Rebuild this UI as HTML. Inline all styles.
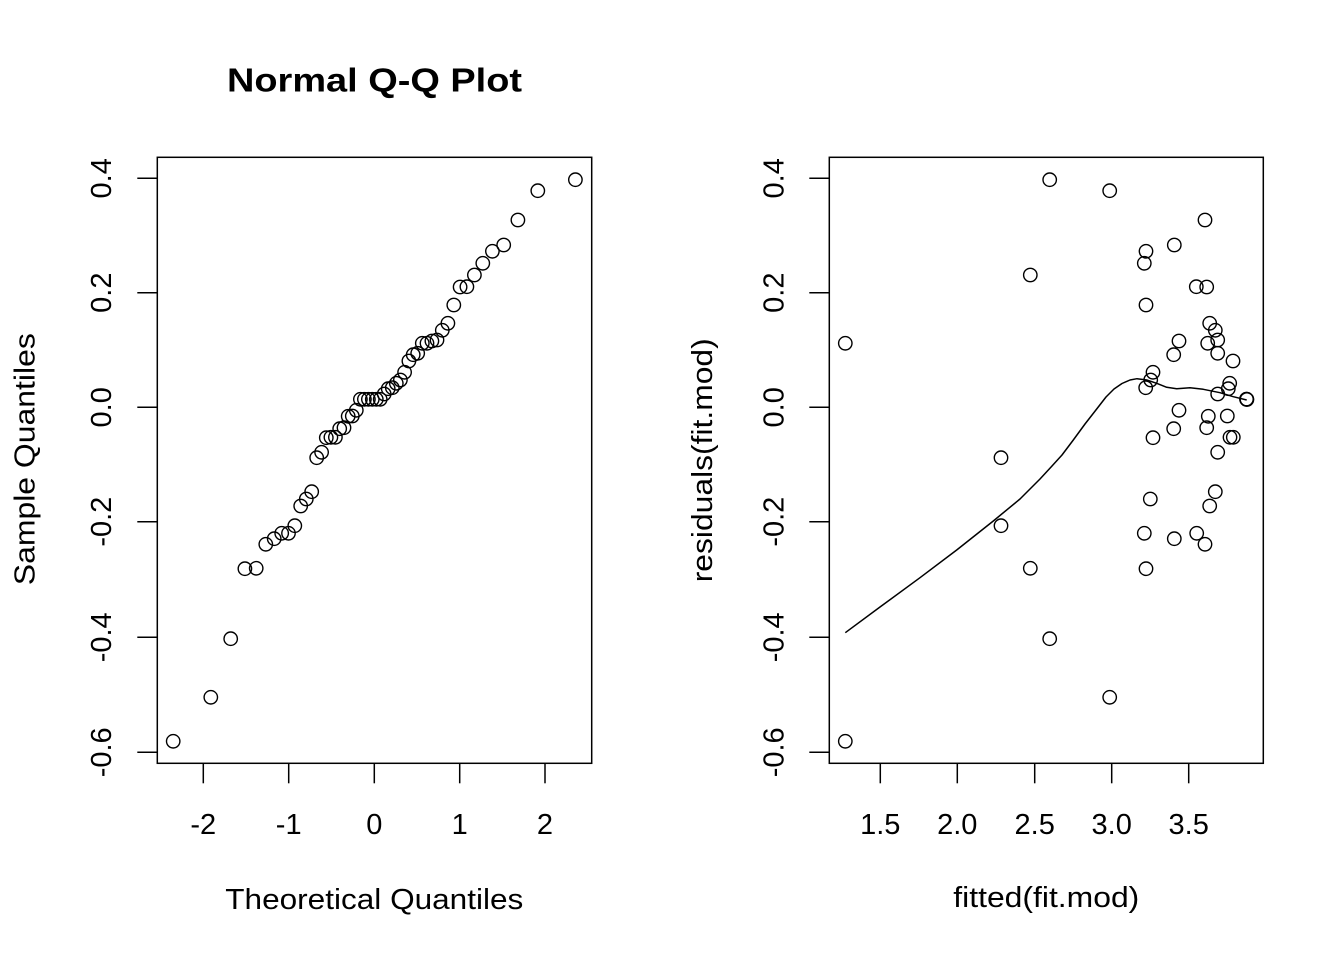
<!DOCTYPE html>
<html>
<head>
<meta charset="utf-8">
<style>
html,body{margin:0;padding:0;background:#fff;}
svg{display:block;}
text{font-family:"Liberation Sans",Arial,sans-serif;fill:#000;}
</style>
</head>
<body>
<svg width="1344" height="960" viewBox="0 0 1344 960" xmlns="http://www.w3.org/2000/svg">
<rect x="0" y="0" width="1344" height="960" fill="#fff"/>
<text x="374.5" y="91.7" font-size="33" font-weight="bold" text-anchor="middle" textLength="295" lengthAdjust="spacingAndGlyphs">Normal Q-Q Plot</text>
<rect x="157.3" y="157.3" width="434.4" height="606" fill="none" stroke="#000" stroke-width="1.5"/>
<g stroke="#000" stroke-width="1.5">
<line x1="203.3" y1="763.3" x2="203.3" y2="783.3"/>
<line x1="288.7" y1="763.3" x2="288.7" y2="783.3"/>
<line x1="374.3" y1="763.3" x2="374.3" y2="783.3"/>
<line x1="459.7" y1="763.3" x2="459.7" y2="783.3"/>
<line x1="545" y1="763.3" x2="545" y2="783.3"/>
<line x1="137.3" y1="178.3" x2="157.3" y2="178.3"/>
<line x1="137.3" y1="292.7" x2="157.3" y2="292.7"/>
<line x1="137.3" y1="407.3" x2="157.3" y2="407.3"/>
<line x1="137.3" y1="521.7" x2="157.3" y2="521.7"/>
<line x1="137.3" y1="637.3" x2="157.3" y2="637.3"/>
<line x1="137.3" y1="752.3" x2="157.3" y2="752.3"/>
</g>
<g font-size="29" text-anchor="middle">
<text x="203.3" y="834">-2</text>
<text x="288.7" y="834">-1</text>
<text x="374.3" y="834">0</text>
<text x="459.7" y="834">1</text>
<text x="545" y="834">2</text>
<text transform="translate(111,178.3) rotate(-90)">0.4</text>
<text transform="translate(111,292.7) rotate(-90)">0.2</text>
<text transform="translate(111,407.3) rotate(-90)">0.0</text>
<text transform="translate(111,521.7) rotate(-90)">-0.2</text>
<text transform="translate(111,637.3) rotate(-90)">-0.4</text>
<text transform="translate(111,752.3) rotate(-90)">-0.6</text>
</g>
<text x="374.3" y="909" font-size="29" text-anchor="middle" textLength="298" lengthAdjust="spacingAndGlyphs">Theoretical Quantiles</text>
<text transform="translate(34.3,459.2) rotate(-90)" font-size="29" text-anchor="middle" textLength="252" lengthAdjust="spacingAndGlyphs">Sample Quantiles</text>
<g fill="none" stroke="#000" stroke-width="1.4">
<circle cx="575.4" cy="179.7" r="6.7"/>
<circle cx="537.8" cy="190.7" r="6.7"/>
<circle cx="517.9" cy="220" r="6.7"/>
<circle cx="503.7" cy="245" r="6.7"/>
<circle cx="492.4" cy="251.3" r="6.7"/>
<circle cx="482.8" cy="263.3" r="6.7"/>
<circle cx="474.4" cy="275" r="6.7"/>
<circle cx="466.9" cy="286.7" r="6.7"/>
<circle cx="460.1" cy="287" r="6.7"/>
<circle cx="453.8" cy="305" r="6.7"/>
<circle cx="447.9" cy="323.3" r="6.7"/>
<circle cx="442.3" cy="330.3" r="6.7"/>
<circle cx="437.0" cy="340" r="6.7"/>
<circle cx="431.9" cy="341" r="6.7"/>
<circle cx="427.0" cy="343.3" r="6.7"/>
<circle cx="422.3" cy="343.3" r="6.7"/>
<circle cx="417.7" cy="353.3" r="6.7"/>
<circle cx="413.2" cy="354.7" r="6.7"/>
<circle cx="408.9" cy="361" r="6.7"/>
<circle cx="404.6" cy="372.3" r="6.7"/>
<circle cx="400.4" cy="380" r="6.7"/>
<circle cx="396.3" cy="383.3" r="6.7"/>
<circle cx="392.3" cy="387.7" r="6.7"/>
<circle cx="388.2" cy="388.7" r="6.7"/>
<circle cx="384.2" cy="394" r="6.7"/>
<circle cx="380.2" cy="399.3" r="6.7"/>
<circle cx="376.3" cy="399.3" r="6.7"/>
<circle cx="372.3" cy="399.3" r="6.7"/>
<circle cx="368.4" cy="399.3" r="6.7"/>
<circle cx="364.4" cy="399.3" r="6.7"/>
<circle cx="360.4" cy="399.3" r="6.7"/>
<circle cx="356.3" cy="410.3" r="6.7"/>
<circle cx="352.3" cy="416" r="6.7"/>
<circle cx="348.2" cy="416.3" r="6.7"/>
<circle cx="344.0" cy="427.7" r="6.7"/>
<circle cx="339.7" cy="428.7" r="6.7"/>
<circle cx="335.4" cy="437.3" r="6.7"/>
<circle cx="330.9" cy="437.3" r="6.7"/>
<circle cx="326.3" cy="437.7" r="6.7"/>
<circle cx="321.6" cy="452.3" r="6.7"/>
<circle cx="316.7" cy="457.7" r="6.7"/>
<circle cx="311.7" cy="491.7" r="6.7"/>
<circle cx="306.3" cy="499" r="6.7"/>
<circle cx="300.7" cy="506" r="6.7"/>
<circle cx="294.8" cy="525.7" r="6.7"/>
<circle cx="288.5" cy="533.3" r="6.7"/>
<circle cx="281.7" cy="533.3" r="6.7"/>
<circle cx="274.2" cy="538.7" r="6.7"/>
<circle cx="265.8" cy="544.3" r="6.7"/>
<circle cx="256.2" cy="568.3" r="6.7"/>
<circle cx="244.9" cy="568.7" r="6.7"/>
<circle cx="230.7" cy="638.7" r="6.7"/>
<circle cx="210.8" cy="697.3" r="6.7"/>
<circle cx="173.2" cy="741.3" r="6.7"/>
</g>
<rect x="829.3" y="157.3" width="434" height="606" fill="none" stroke="#000" stroke-width="1.5"/>
<g stroke="#000" stroke-width="1.5">
<line x1="880.3" y1="763.3" x2="880.3" y2="783.3"/>
<line x1="957.3" y1="763.3" x2="957.3" y2="783.3"/>
<line x1="1034.7" y1="763.3" x2="1034.7" y2="783.3"/>
<line x1="1111.7" y1="763.3" x2="1111.7" y2="783.3"/>
<line x1="1188.7" y1="763.3" x2="1188.7" y2="783.3"/>
<line x1="809.3" y1="178.3" x2="829.3" y2="178.3"/>
<line x1="809.3" y1="292.7" x2="829.3" y2="292.7"/>
<line x1="809.3" y1="407.3" x2="829.3" y2="407.3"/>
<line x1="809.3" y1="521.7" x2="829.3" y2="521.7"/>
<line x1="809.3" y1="637.3" x2="829.3" y2="637.3"/>
<line x1="809.3" y1="752.3" x2="829.3" y2="752.3"/>
</g>
<g font-size="29" text-anchor="middle">
<text x="880.3" y="834">1.5</text>
<text x="957.3" y="834">2.0</text>
<text x="1034.7" y="834">2.5</text>
<text x="1111.7" y="834">3.0</text>
<text x="1188.7" y="834">3.5</text>
<text transform="translate(783.3,178.3) rotate(-90)">0.4</text>
<text transform="translate(783.3,292.7) rotate(-90)">0.2</text>
<text transform="translate(783.3,407.3) rotate(-90)">0.0</text>
<text transform="translate(783.3,521.7) rotate(-90)">-0.2</text>
<text transform="translate(783.3,637.3) rotate(-90)">-0.4</text>
<text transform="translate(783.3,752.3) rotate(-90)">-0.6</text>
</g>
<text x="1046.3" y="907" font-size="29" text-anchor="middle" textLength="186" lengthAdjust="spacingAndGlyphs">fitted(fit.mod)</text>
<text transform="translate(712,460.3) rotate(-90)" font-size="29" text-anchor="middle" textLength="244" lengthAdjust="spacingAndGlyphs">residuals(fit.mod)</text>
<g fill="none" stroke="#000" stroke-width="1.4">
<circle cx="845.3" cy="343.3" r="6.7"/>
<circle cx="1049.7" cy="179.7" r="6.7"/>
<circle cx="1109.7" cy="190.7" r="6.7"/>
<circle cx="1205" cy="220" r="6.7"/>
<circle cx="1174.3" cy="245" r="6.7"/>
<circle cx="1146" cy="251.3" r="6.7"/>
<circle cx="1144.3" cy="263.3" r="6.7"/>
<circle cx="1030.3" cy="275" r="6.7"/>
<circle cx="1196.3" cy="286.7" r="6.7"/>
<circle cx="1206.7" cy="287" r="6.7"/>
<circle cx="1146" cy="305" r="6.7"/>
<circle cx="1209.7" cy="323.3" r="6.7"/>
<circle cx="1215.3" cy="330.3" r="6.7"/>
<circle cx="1179" cy="341" r="6.7"/>
<circle cx="1207.7" cy="343.3" r="6.7"/>
<circle cx="1217.7" cy="340" r="6.7"/>
<circle cx="1173.7" cy="354.7" r="6.7"/>
<circle cx="1217.7" cy="353.3" r="6.7"/>
<circle cx="1233" cy="361" r="6.7"/>
<circle cx="1153" cy="372.3" r="6.7"/>
<circle cx="1150.7" cy="380" r="6.7"/>
<circle cx="1145.7" cy="387.7" r="6.7"/>
<circle cx="1229.7" cy="383.3" r="6.7"/>
<circle cx="1228.3" cy="388.7" r="6.7"/>
<circle cx="1217.7" cy="394" r="6.7"/>
<circle cx="1246.7" cy="399.3" r="6.7"/>
<circle cx="1246.7" cy="399.3" r="6.7"/>
<circle cx="1246.9" cy="399.5" r="6.7"/>
<circle cx="1246.5" cy="399.1" r="6.7"/>
<circle cx="1179" cy="410.3" r="6.7"/>
<circle cx="1208.3" cy="416.3" r="6.7"/>
<circle cx="1227.3" cy="416" r="6.7"/>
<circle cx="1173.7" cy="428.7" r="6.7"/>
<circle cx="1206.7" cy="427.7" r="6.7"/>
<circle cx="1153" cy="437.7" r="6.7"/>
<circle cx="1230" cy="437.3" r="6.7"/>
<circle cx="1233.3" cy="437.3" r="6.7"/>
<circle cx="1217.7" cy="452.3" r="6.7"/>
<circle cx="1001" cy="457.7" r="6.7"/>
<circle cx="1215.3" cy="491.7" r="6.7"/>
<circle cx="1150.3" cy="499" r="6.7"/>
<circle cx="1209.7" cy="506" r="6.7"/>
<circle cx="1001" cy="525.7" r="6.7"/>
<circle cx="1144.3" cy="533.3" r="6.7"/>
<circle cx="1174.3" cy="538.7" r="6.7"/>
<circle cx="1196.7" cy="533.3" r="6.7"/>
<circle cx="1205" cy="544.3" r="6.7"/>
<circle cx="1030.3" cy="568.3" r="6.7"/>
<circle cx="1146" cy="568.7" r="6.7"/>
<circle cx="1049.7" cy="638.7" r="6.7"/>
<circle cx="1109.7" cy="697.3" r="6.7"/>
<circle cx="845.3" cy="741.3" r="6.7"/>
</g>
<polyline fill="none" stroke="#000" stroke-width="1.5" stroke-linejoin="round" points="845.3,632.7 880,607 920,577.7 956.7,550 993.3,521 1020,499 1040,479 1052,466 1062,455 1073.3,440 1085,424 1096.7,409 1106,397 1114,389 1122,383.5 1130,380 1137,378.7 1146.7,380 1156.7,383.3 1166.7,387.3 1176.7,388.7 1190,387.7 1203.3,389.3 1220,392.7 1233.3,396.7 1246.7,400"/>
</svg>
</body>
</html>
